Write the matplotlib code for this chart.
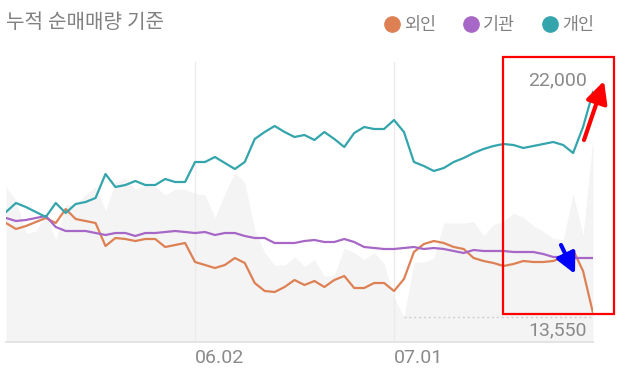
import matplotlib
matplotlib.use("Agg")
import matplotlib.pyplot as plt
from matplotlib.lines import Line2D
from matplotlib.patches import Rectangle, FancyArrowPatch
from matplotlib.transforms import IdentityTransform

plt.rcParams['font.family'] = ['Roboto', 'Noto Sans CJK KR', 'DejaVu Sans']

# ---------------- data ----------------
title = "누적 순매매량 기준"
series_names = ["외인", "기관", "개인"]

foreign = [7, 1, 4, 8, 12, 7, 21, 11, 9, 7,
           -16, -8, -9, -11, -9, -9, -17, -15, -13, -32,
           -35, -38, -35, -28, -33, -53, -61, -62, -57, -50,
           -55, -51, -57, -50, -46, -58, -58, -53, -53, -61,
           -49, -22, -14, -11, -13, -17, -19, -28, -31, -33,
           -36, -34, -31, -32, -32, -31, -27, -20, -41, -83]
institution = [12, 9, 10, 12, 14, 3, -1, -1, -1, -3,
               -5, -3, -3, -6, -3, -3, -2, -1, -2, -3,
               -2, -5, -3, -3, -6, -8, -8, -13, -13, -13,
               -11, -10, -12, -12, -9, -12, -17, -18, -19, -19,
               -18, -17, -19, -18, -19, -21, -23, -20, -21, -21,
               -21, -22, -22, -22, -24, -27, -27, -28, -28, -28]
individual = [18, 27, 23, 18, 13, 27, 17, 26, 28, 32,
              56, 43, 45, 49, 45, 45, 51, 48, 48, 68,
              68, 73, 67, 61, 68, 91, 98, 104, 98, 93,
              95, 90, 98, 91, 83, 97, 103, 101, 101, 110,
              98, 68, 64, 59, 62, 68, 72, 77, 81, 84,
              86, 85, 82, 84, 86, 88, 85, 77, 103, 138]
price = [18200, 17700, 16550, 16600, 17200, 16300, 17550, 17550, 17900, 18200,
         17350, 18350, 18500, 18100, 18250, 18200, 17900, 18100, 18100, 17950,
         17900, 17100, 17950, 18700, 18350, 16650, 15850, 15400, 15400, 15700,
         15350, 15600, 15000, 15050, 16000, 15850, 15600, 15850, 15450, 14250,
         13550, 15500, 15500, 15650, 16900, 16900, 16900, 16950, 16450, 16850,
         16950, 17250, 17100, 16800, 16600, 16350, 16300, 17950, 16450, 19950]

tick_positions = [19, 39]
tick_labels = ["06.02", "07.01"]
price_high = 22000
price_low = 13550
price_high_label = "22,000"
price_low_label = "13,550"

# ---------------- styling ----------------
c_foreign = "#dd8155"
c_inst = "#a767c6"
c_indiv = "#34a5ad"
gray_txt = "#8a8a8a"

fig = plt.figure(figsize=(6.29, 3.75), dpi=100)
ax = fig.add_axes([6 / 629, 33 / 375, 587 / 629, 280 / 375])
x = list(range(len(price)))

ax.fill_between(x, price, 12659, color="#f4f4f4", lw=0, zorder=1)
ax.set_xlim(0, len(price) - 1)
ax.set_ylim(12659, 22641)
min_idx = price.index(min(price))
ax.hlines(price_low, min_idx, len(price) - 1, colors="#cfcfcf",
          linestyles=(0, (1.5, 2)), lw=1, zorder=2)

ax.set_xticks(tick_positions, tick_labels)
ax.tick_params(axis="x", length=0, pad=5, labelsize=14, labelcolor=gray_txt)
for t in ax.get_xticklabels():
    t.set_ha("left")
ax.set_yticks([])
ax.grid(axis="x", color="#ebebeb", lw=1)
for s in ["top", "left", "right"]:
    ax.spines[s].set_visible(False)
ax.spines["bottom"].set_color("#e2e2e2")
ax.spines["bottom"].set_linewidth(1.3)

ax.annotate(price_high_label, xy=(len(price) - 1, price_high), xytext=(-6, 0),
            textcoords="offset pixels", ha="right", va="center",
            fontsize=14, color=gray_txt)
ax.annotate(price_low_label, xy=(len(price) - 1, price_low), xytext=(-6, -4),
            textcoords="offset pixels", ha="right", va="top",
            fontsize=14, color=gray_txt)

axl = ax.twinx()
axl.set_ylim(-112, 168)
axl.set_yticks([])
for s in axl.spines.values():
    s.set_visible(False)
axl.plot(x, foreign, color=c_foreign, lw=1.6)
axl.plot(x, institution, color=c_inst, lw=1.6)
axl.plot(x, individual, color=c_indiv, lw=1.6)

# title & legend
fig.text(6 / 629, 1 - 23 / 375, title, fontsize=14.5, color="#808080",
         ha="left", va="center")
handles = [Line2D([], [], marker="o", linestyle="", markersize=11, color=c)
           for c in (c_foreign, c_inst, c_indiv)]
fig.legend(handles, series_names, loc="center right",
           bbox_to_anchor=(594 / 629, 1 - 25 / 375), ncol=3, frameon=False,
           fontsize=12.5, handlelength=0.8, handletextpad=0.3,
           columnspacing=1.6, borderpad=0, borderaxespad=0,
           labelcolor="#808080")

# annotations (red box, arrows)
fig.add_artist(Rectangle((503, 61), 111, 257, transform=IdentityTransform(),
                         fill=False, ec="#ff0000", lw=1.6))
fig.add_artist(FancyArrowPatch(
    (584, 235), (604, 294), transform=IdentityTransform(),
    arrowstyle="-|>,head_length=1.3,head_width=0.65", color="#ff0000",
    lw=3.0, mutation_scale=10, shrinkA=0, shrinkB=0))
fig.add_artist(FancyArrowPatch(
    (561, 130), (575, 101), transform=IdentityTransform(),
    arrowstyle="-|>,head_length=1.2,head_width=0.6", color="#0000ff",
    lw=3.0, mutation_scale=10, shrinkA=0, shrinkB=0))

fig.savefig("out.png", dpi=100)
